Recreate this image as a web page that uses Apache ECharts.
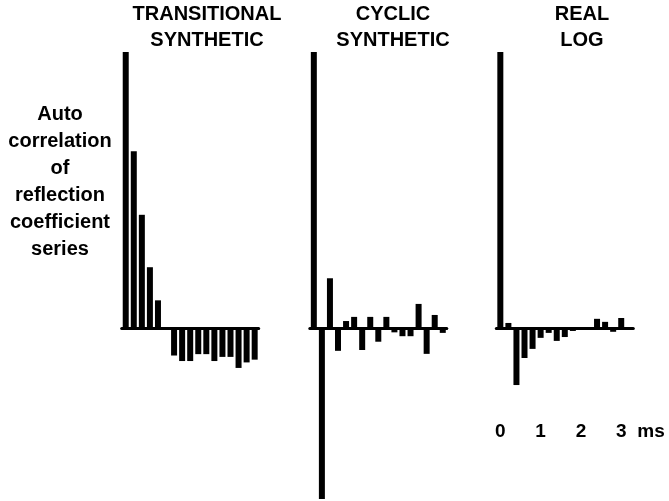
<!DOCTYPE html>
<html>
<head>
<meta charset="utf-8">
<script src="https://cdn.jsdelivr.net/npm/echarts@6/dist/echarts.min.js"></script>
<style>
  html, body { margin: 0; padding: 0; background: #fff; }
  #chart { width: 669px; height: 501px; }
</style>
</head>
<body>
<div id="chart"></div>
<script>
// Lag in milliseconds (one lag = 0.2 ms)
const lagsMs = ['0','0.2','0.4','0.6','0.8','1','1.2','1.4','1.6','1.8','2','2.2','2.4','2.6','2.8','3','3.2'];
// Tick labels shown under the real-log panel
const tickLabels = ['0', '1', '2', '3'];
const unitLabel = 'ms';

// Normalised autocorrelation values (lag 0 = 1)
const transitional = [1.00, 0.64, 0.41, 0.22, 0.10, 0.00, -0.10, -0.12, -0.12, -0.095, -0.095, -0.12, -0.105, -0.105, -0.145, -0.125, -0.115];
const cyclic = [1.00, -0.62, 0.18, -0.083, 0.025, 0.04, -0.08, 0.04, -0.05, 0.04, -0.016, -0.03, -0.03, 0.087, -0.094, 0.047, -0.018];
const realLog = [1.00, 0.018, -0.207, -0.109, -0.076, -0.036, -0.018, -0.047, -0.033, -0.011, -0.007, -0.004, 0.033, 0.022, -0.014, 0.036, -0.005];

const panelTitles = ['TRANSITIONAL\nSYNTHETIC', 'CYCLIC\nSYNTHETIC', 'REAL\nLOG'];
const sideLabel = 'Auto\ncorrelation\nof\nreflection\ncoefficient\nseries';

const FONT = 'Liberation Sans';
const chart = echarts.init(document.getElementById('chart'));

const gridLefts = [121.7, 309.8, 496.3];
const titleCenters = [207, 393, 582];
const seriesData = [transitional, cyclic, realLog];

const grids = gridLefts.map(l => ({
  left: l, width: 137, top: 52, height: 447,
  containLabel: false,
  outerBoundsMode: 'none'
}));

const xAxes = gridLefts.map((l, i) => ({
  type: 'category',
  gridIndex: i,
  data: lagsMs,
  boundaryGap: true,
  axisLine: { show: true, onZero: true, lineStyle: { color: '#000', width: 3 } },
  axisTick: { show: false },
  axisLabel: i === 2 ? {
    show: true,
    interval: 0,
    hideOverlap: false,
    margin: -77,
    color: '#000',
    fontFamily: FONT,
    fontWeight: 'bold',
    fontSize: 19,
    formatter: function (v) {
      const n = parseFloat(v);
      if (Number.isInteger(n) && tickLabels.indexOf(String(n)) >= 0) return String(n);
      return '';
    }
  } : { show: false },
  name: i === 2 ? unitLabel : '',
  nameLocation: 'end',
  nameGap: 4,
  nameTextStyle: {
    color: '#000',
    fontFamily: FONT,
    fontWeight: 'bold',
    fontSize: 19,
    align: 'left',
    verticalAlign: 'top',
    padding: [94, 0, 0, 0]
  },
  splitLine: { show: false }
}));

const yAxes = gridLefts.map((l, i) => ({
  type: 'value',
  gridIndex: i,
  min: -0.62,
  max: 1.0,
  show: false,
  splitLine: { show: false }
}));

const series = seriesData.map((d, i) => ({
  type: 'bar',
  xAxisIndex: i,
  yAxisIndex: i,
  data: d,
  barWidth: 6,
  itemStyle: { color: '#000' },
  silent: true,
  animation: false
}));

const titles = panelTitles.map((t, i) => ({
  text: t,
  left: titleCenters[i],
  top: 1,
  textAlign: 'center',
  padding: 0,
  textStyle: {
    color: '#000',
    fontFamily: FONT,
    fontWeight: 'bold',
    fontSize: 20,
    lineHeight: 26
  }
}));
titles.push({
  text: sideLabel,
  left: 60,
  top: 101,
  textAlign: 'center',
  padding: 0,
  textStyle: {
    color: '#000',
    fontFamily: FONT,
    fontWeight: 'bold',
    fontSize: 20,
    lineHeight: 27
  }
});

chart.setOption({
  backgroundColor: '#fff',
  animation: false,
  title: titles,
  grid: grids,
  xAxis: xAxes,
  yAxis: yAxes,
  series: series
});
</script>
</body>
</html>
